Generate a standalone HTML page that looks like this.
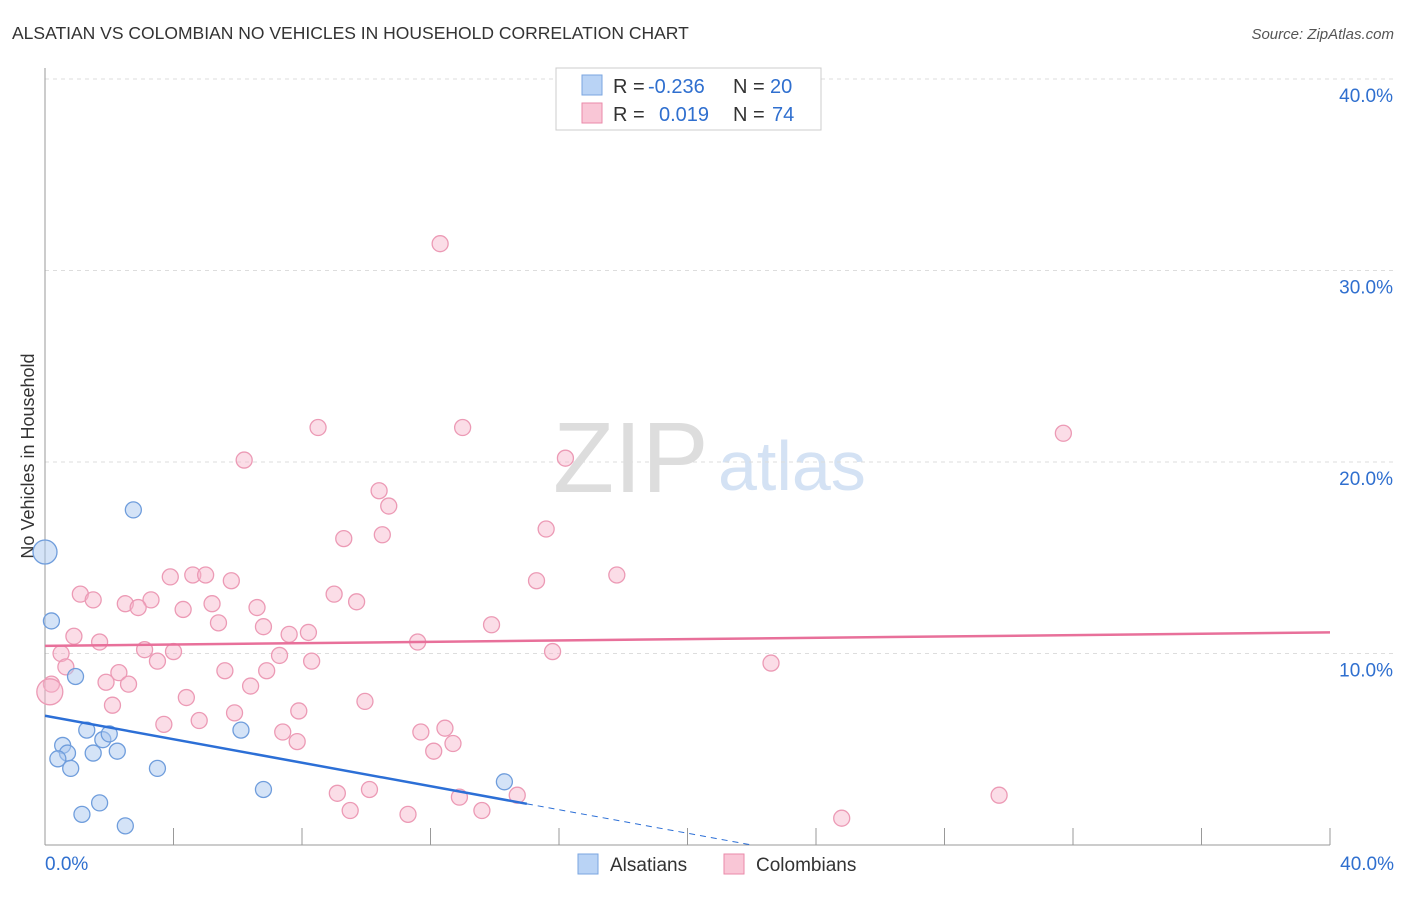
<!DOCTYPE html>
<html><head><meta charset="utf-8"><style>
body{margin:0;background:#fff;font-family:"Liberation Sans",sans-serif;}
svg text{font-family:"Liberation Sans",sans-serif;}
</style></head><body>
<svg id="chart" width="1406" height="892" xmlns="http://www.w3.org/2000/svg">
<text x="12" y="39" font-size="17.5" fill="#333">ALSATIAN VS COLOMBIAN NO VEHICLES IN HOUSEHOLD CORRELATION CHART</text>
<text x="1394" y="39" font-size="15" fill="#555" text-anchor="end" font-style="italic">Source: ZipAtlas.com</text>
<text x="34" y="456" font-size="18" fill="#333" transform="rotate(-90 34 456)" text-anchor="middle">No Vehicles in Household</text>
<text x="553" y="492" font-size="100" fill="#ddd" font-family="Liberation Serif">ZIP</text>
<text x="718" y="490" font-size="70" fill="#d4e2f4">atlas</text>
<g id="grid"></g><g id="pts"></g><g id="lines"></g>
<g font-size="20">
<rect x="556" y="68" width="265" height="62" fill="#fff" stroke="#ccc"/>
<rect x="582" y="75" width="20" height="20" fill="#b9d3f5" stroke="#7aa6e0"/>
<rect x="582" y="103" width="20" height="20" fill="#f9c6d6" stroke="#ea8aa9"/>
<text x="613" y="93" fill="#333">R =</text>
<text x="648" y="93" fill="#2f6fcf">-0.236</text>
<text x="733" y="93" fill="#333">N =</text>
<text x="770" y="93" fill="#2f6fcf">20</text>
<text x="613" y="121" fill="#333">R =</text>
<text x="659" y="121" fill="#2f6fcf">0.019</text>
<text x="733" y="121" fill="#333">N =</text>
<text x="772" y="121" fill="#2f6fcf">74</text>
</g>
<g>
<rect x="578" y="854" width="20" height="20" fill="#b9d3f5" stroke="#7aa6e0"/>
<text x="610" y="871" font-size="19" fill="#333">Alsatians</text>
<rect x="724" y="854" width="20" height="20" fill="#f9c6d6" stroke="#ea8aa9"/>
<text x="756" y="871" font-size="19" fill="#333">Colombians</text>
</g>
</svg>
<script>
const yTicks=[10,20,30,40];
const yTickLabels=["10.0%","20.0%","30.0%","40.0%"];
const alsX=[0.0,0.2,0.95,0.55,0.7,0.4,0.8,1.3,1.5,1.8,2.0,2.25,1.7,1.15,2.5,2.75,3.5,6.1,6.8,14.3];
const alsY=[15.3,11.7,8.8,5.2,4.8,4.5,4.0,6.0,4.8,5.5,5.8,4.9,2.2,1.6,1.0,17.5,4.0,6.0,2.9,3.3];
const colX=[12.3,8.5,13.0,31.7,6.2,16.2,10.4,10.7,15.6,10.5,9.3,1.1,1.5,2.5,3.3,2.9,3.9,4.6,5.0,5.8,4.3,5.2,6.6,9.0,9.7,15.3,17.8,5.4,6.8,7.6,8.2,0.9,1.7,13.9,11.6,15.8,0.5,3.1,4.0,3.5,7.3,8.3,0.65,2.3,5.6,6.9,22.6,0.2,1.9,2.6,6.4,4.4,9.96,2.1,7.9,5.9,4.8,3.7,7.4,11.7,12.45,7.85,12.7,12.1,9.1,10.1,12.9,14.7,29.7,9.5,11.3,13.6,24.8,0.15];
const colY=[31.4,21.8,21.8,21.5,20.1,20.2,18.5,17.7,16.5,16.2,16.0,13.1,12.8,12.6,12.8,12.4,14.0,14.1,14.1,13.8,12.3,12.6,12.4,13.1,12.7,13.8,14.1,11.6,11.4,11.0,11.1,10.9,10.6,11.5,10.6,10.1,10.0,10.2,10.1,9.6,9.9,9.6,9.3,9.0,9.1,9.1,9.5,8.4,8.5,8.4,8.3,7.7,7.5,7.3,7.0,6.9,6.5,6.3,5.9,5.9,6.1,5.4,5.3,4.9,2.7,2.9,2.5,2.6,2.6,1.8,1.6,1.8,1.4,8.0];
const X=v=>45+v*32.125, Y=v=>845-v*19.15;
const ns="http://www.w3.org/2000/svg";
function mk(t,a,p){const e=document.createElementNS(ns,t);for(const k in a)e.setAttribute(k,a[k]);p.appendChild(e);return e;}
const grid=document.getElementById('grid');
yTicks.forEach((t,i)=>{
 const l=mk('line',{x1:45,x2:1394,y1:Y(t),y2:Y(t),stroke:'#ddd','stroke-dasharray':'4,4'},grid);
 
 
 const tx=mk('text',{x:1393,y:Y(t)+23,'font-size':19,fill:'#2f6fcf','text-anchor':'end'},grid);
 tx.textContent=yTickLabels[i];
 
 
});
mk('line',{x1:45,x2:45,y1:68,y2:845,stroke:'#999'},grid);
mk('line',{x1:45,x2:1330,y1:845,y2:845,stroke:'#999'},grid);
for(let i=0;i<=10;i++){mk('line',{x1:X(i*4),x2:X(i*4),y1:828,y2:845,stroke:'#999'},grid);}
let t0=mk('text',{x:45,y:870,'font-size':19,fill:'#2f6fcf'},grid);t0.textContent='0.0%';


let t1=mk('text',{x:1394,y:870,'font-size':19,fill:'#2f6fcf','text-anchor':'end'},grid);t1.textContent='40.0%';


const pts=document.getElementById('pts');
colX.forEach((x,i)=>{const c=mk('circle',{cx:X(x),cy:Y(colY[i]),r:(i==colX.length-1)?13:8,fill:'rgba(246,180,202,0.45)',stroke:'#ec9ab5','stroke-width':1.3},pts);
 
 });
alsX.forEach((x,i)=>{const c=mk('circle',{cx:X(x),cy:Y(alsY[i]),r:i==0?12:8,fill:'rgba(170,200,240,0.5)',stroke:'#6f9ddc','stroke-width':1.3},pts);
 
 });
const lines=document.getElementById('lines');
let pl=mk('line',{x1:X(0),y1:Y(10.4),x2:X(40),y2:Y(11.1),stroke:'#e8709a','stroke-width':2.5},lines);


let bl=mk('line',{x1:X(0),y1:Y(6.75),x2:X(15),y2:Y(2.15),stroke:'#2c6fd6','stroke-width':2.5},lines);


let bd=mk('line',{x1:X(15),y1:Y(2.15),x2:X(22),y2:Y(0),stroke:'#2c6fd6','stroke-width':1,'stroke-dasharray':'6,5'},lines);


</script>
</body></html>
